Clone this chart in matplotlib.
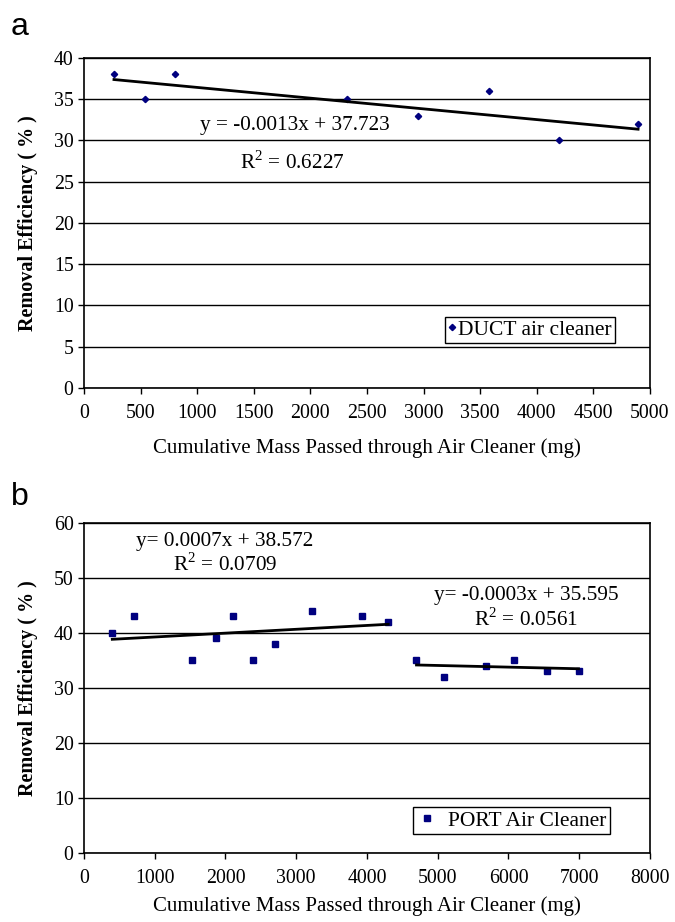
import numpy as np
import matplotlib
matplotlib.use('Agg')
import matplotlib.pyplot as plt

plt.rcParams['font.family'] = ['Liberation Serif', 'DejaVu Serif']
plt.rcParams['mathtext.fontset'] = 'custom'
plt.rcParams['mathtext.rm'] = 'Liberation Serif'

# Panel a: DUCT air cleaner
duct_mass = [265, 540, 800, 2325, 2955, 3580, 4200, 4895]
duct_eff = [38, 35, 38, 35, 33, 36, 30, 32]
duct_fit = (-0.0013, 37.723)

# Panel b: PORT air cleaner
port_mass = [400, 710, 1530, 1870, 2110, 2390, 2700, 3230, 3930, 4300,
             4700, 5090, 5680, 6080, 6550, 6990]
port_eff = [40, 43, 35, 39, 43, 35, 38, 44, 43, 42,
            35, 32, 34, 35, 33, 33]
port_fit1 = (0.0007, 38.572)
port_fit2 = (-0.0003, 35.595)
split = 10  # first 10 points belong to first fit

navy = '#00007f'

fig = plt.figure(figsize=(6.75, 9.22), dpi=100)
ax1 = fig.add_axes([0.1244, 0.5792, 0.8385, 0.358])
ax2 = fig.add_axes([0.1244, 0.0748, 0.8385, 0.358])


def style(ax, xmax, xstep, ymax, ystep, xlabelpad):
    ax.set_xlim(0, xmax)
    ax.set_ylim(0, ymax)
    ax.set_xticks(np.arange(0, xmax + 1, xstep))
    ax.set_yticks(np.arange(0, ymax + 1, ystep))
    ax.yaxis.grid(True, color='black', linewidth=1)
    ax.set_axisbelow(True)
    for s in ax.spines.values():
        s.set_linewidth(1.2)
    ax.tick_params(direction='out', length=4.5, width=1, labelsize=14.3)
    ax.tick_params(axis='y', pad=3)
    ax.tick_params(axis='x', pad=7)
    ax.set_ylabel('Removal Efficiency ( % )', fontweight='bold', fontsize=14.5, labelpad=11)
    ax.set_xlabel('Cumulative Mass Passed through Air Cleaner (mg)', fontsize=15,
                  labelpad=xlabelpad)


# ---- panel a
style(ax1, 5000, 500, 40, 5, 11)
ax1.plot(duct_mass, duct_eff, linestyle='none', marker='D', markersize=3.2,
         color=navy, label='DUCT air cleaner')
xa = np.array([duct_mass[0], duct_mass[-1]])
ax1.plot(xa, duct_fit[0] * xa + duct_fit[1], color='black', linewidth=2)
ax1.text(1860, 31.8, 'y = -0.0013x + 37.723', fontsize=15.3, ha='center', va='center')
ax1.text(1840, 27.3, r'R$^2$ = 0.6227', fontsize=15.3, ha='center', va='center')
leg = ax1.legend(loc='lower right', bbox_to_anchor=(0.938, 0.136), fontsize=15.5,
                 fancybox=False, edgecolor='black', framealpha=1,
                 handlelength=0.3, handletextpad=0.15, borderpad=0.15, borderaxespad=0)
leg.get_frame().set_linewidth(1)

# ---- panel b
style(ax2, 8000, 1000, 60, 10, 6)
ax2.plot(port_mass, port_eff, linestyle='none', marker='s', markersize=4,
         color=navy, label='PORT Air Cleaner')
xb1 = np.array([port_mass[0], port_mass[split - 1]])
ax2.plot(xb1, port_fit1[0] * xb1 + port_fit1[1], color='black', linewidth=2)
xb2 = np.array([port_mass[split], port_mass[-1]])
ax2.plot(xb2, port_fit2[0] * xb2 + port_fit2[1], color='black', linewidth=2)
ax2.text(1990, 56.6, 'y= 0.0007x + 38.572', fontsize=15.3, ha='center', va='center')
ax2.text(2000, 52.4, r'R$^2$ = 0.0709', fontsize=15.3, ha='center', va='center')
ax2.text(6250, 46.9, 'y= -0.0003x + 35.595', fontsize=15.3, ha='center', va='center')
ax2.text(6250, 42.5, r'R$^2$ = 0.0561', fontsize=15.3, ha='center', va='center')
leg = ax2.legend(loc='lower right', bbox_to_anchor=(0.929, 0.058), fontsize=15.5,
                 fancybox=False, edgecolor='black', framealpha=1,
                 handlelength=1.0, handletextpad=0.5, borderpad=0.15, borderaxespad=0)
leg.get_frame().set_linewidth(1)

# panel letters
fig.text(0.016, 0.962, 'a', fontsize=23, family='Liberation Sans', va='baseline')
fig.text(0.016, 0.4523, 'b', fontsize=23, family='Liberation Sans', va='baseline')

fig.savefig('out.png', dpi=100)
